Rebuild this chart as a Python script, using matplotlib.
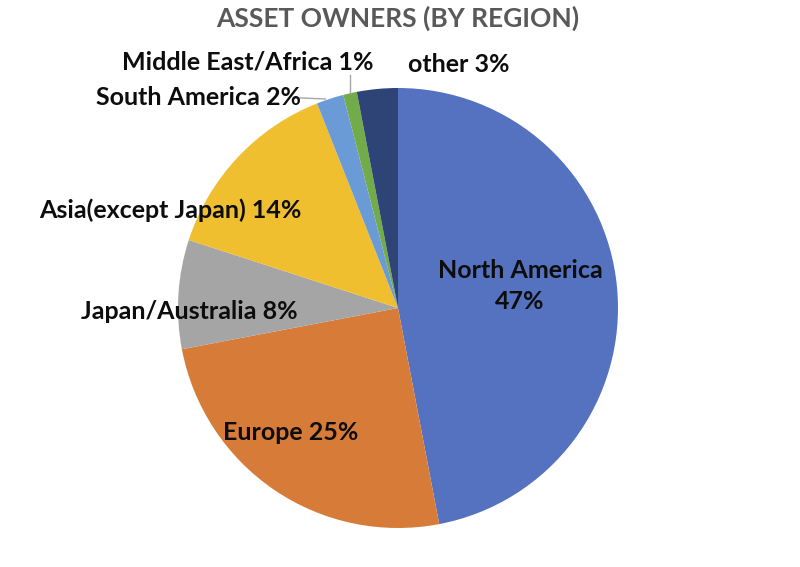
import matplotlib.pyplot as plt

regions = ["North America", "Europe", "Japan/Australia", "Asia(except Japan)",
           "South America", "Middle East/Africa", "other"]
shares = [47, 25, 8, 14, 2, 1, 3]
colors = ["#5572C1", "#D67C38", "#A5A5A5", "#F0BF2F", "#6B9BD6", "#72AC4A", "#2F4476"]

# label centres in pie units (radius = 1)
label_pos = [(0.555, 0.10), (-0.49, -0.564), (-0.95, -0.018), (-1.036, 0.445),
             (-0.909, 0.959), (-0.682, 1.118), (0.277, 1.109)]

plt.rcParams['font.family'] = ['Lato', 'DejaVu Sans']

fig = plt.figure(figsize=(8, 5.67), dpi=100)
ax = fig.add_axes([178 / 800, 39 / 567, 440 / 800, 440 / 567])

wedges, _ = ax.pie(shares, colors=colors, startangle=90, counterclock=False,
                   radius=1, wedgeprops=dict(linewidth=0))
ax.set_xlim(-1, 1)
ax.set_ylim(-1, 1)
ax.set_aspect("equal")
ax.axis("off")

for name, val, (x, y) in zip(regions, shares, label_pos):
    if name == "North America":
        txt = f"{name}\n{val}%"
    else:
        txt = f"{name} {val}%"
    ax.text(x, y, txt, ha="center", va="center", fontsize=18, fontweight="bold",
            color="#0D0D0D", linespacing=1.45, clip_on=False)

# leader lines for the thin slices
ax.plot([-0.445, -0.33], [0.955, 0.95], color="#A6A6A6", lw=1, clip_on=False)
ax.plot([-0.218, -0.218], [1.06, 0.976], color="#A6A6A6", lw=1, clip_on=False)

fig.text(398 / 800, 1 - 18 / 567, "ASSET OWNERS (BY REGION)", ha="center", va="center",
         fontsize=19, fontweight="bold", color="#595959")

plt.savefig("out.png", dpi=100)
